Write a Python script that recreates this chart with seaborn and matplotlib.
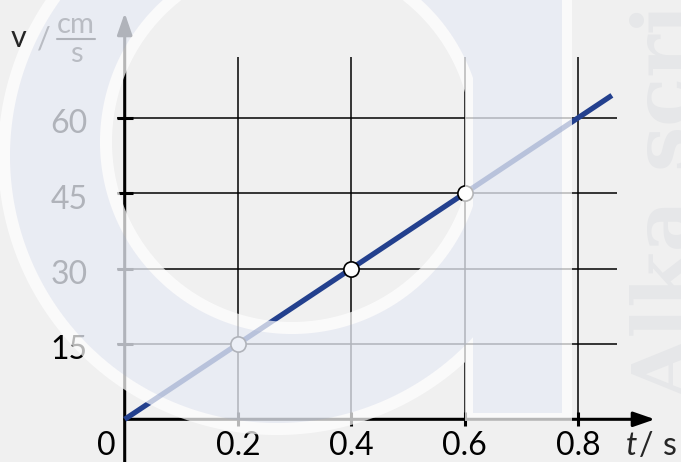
import numpy as np
import matplotlib
matplotlib.use("Agg")
import matplotlib.pyplot as plt
import matplotlib.transforms as mtransforms
import seaborn as sns

# --- data -------------------------------------------------------------
t_line = [0.0, 0.86]          # s
v_line = [0.0, 64.5]          # cm/s
t_points = [0.2, 0.4, 0.6]
v_points = [15, 30, 45]
x_ticks = [0.2, 0.4, 0.6, 0.8]
x_tick_labels = ["0.2", "0.4", "0.6", "0.8"]
y_ticks = [15, 30, 45, 60]
y_tick_labels = ["15", "30", "45", "60"]

W, H = 681, 462
BG = "#f0f0f0"
LINE_BLUE = "#23408e"

sns.set_theme(style="white", rc={"figure.facecolor": BG, "axes.facecolor": BG})
plt.rcParams["font.family"] = ["Lato", "DejaVu Sans"]

fig = plt.figure(figsize=(W / 100, H / 100), dpi=100)
ax = fig.add_axes([0, 0, 1, 1])

# pixel layout of the original: t=0 at x=124.7 px, v=0 at y=419.3 px
x0, sx = 124.7, 566.5
y0, sy = 419.3, 5.022
v_bottom = (y0 - H) / sy

# pixel transform (origin top-left) for the free labels
px = mtransforms.Affine2D().scale(1 / W, -1 / H).translate(0, 1) + fig.transFigure

# grid
ax.vlines(x_ticks, 0, 72.1, colors="black", lw=1.1, zorder=1)
ax.hlines(y_ticks, -0.0136, 0.869, colors="black", lw=1.1, zorder=1)
# tick marks
ax.vlines(x_ticks, -1.4, 1.4, colors="black", lw=2.2, zorder=2)
ax.hlines(y_ticks, -0.014, 0.014, colors="black", lw=2.2, zorder=2)

# axes with arrows
arrow = dict(arrowstyle="-|>,head_length=13,head_width=4.5", mutation_scale=1,
             lw=2.2, color="black", shrinkA=0, shrinkB=0)
ax.annotate("", xy=(0, 80.9), xytext=(0, v_bottom), arrowprops=arrow, zorder=3)
ax.annotate("", xy=(0.936, 0), xytext=(0, 0), arrowprops=arrow, zorder=3)

# data line and measured points
sns.lineplot(x=t_line, y=v_line, ax=ax, color=LINE_BLUE, linewidth=3.8,
             solid_capstyle="butt", zorder=4)
sns.scatterplot(x=t_points, y=v_points, ax=ax, s=120, color="white",
                edgecolor="black", linewidth=1.2, zorder=5, legend=False)

ax.set_xlim(-x0 / sx, (W - x0) / sx)
ax.set_ylim(v_bottom, y0 / sy)
ax.set_axis_off()

# tick labels
fs = 23
for t, lab in zip(x_ticks, x_tick_labels):
    ax.text(t, -7.2, lab, ha="center", va="baseline", fontsize=fs, color="black")
ax.text(-0.033, -7.2, "0", ha="center", va="baseline", fontsize=fs, color="black")
for v, lab in zip(y_ticks, y_tick_labels):
    ax.text(-0.065, v - 3.09, lab, ha="right", va="baseline", fontsize=fs, color="black")

# axis titles
ax.text(19, 47, "v", transform=px, ha="center", va="baseline", fontsize=22)
ax.text(44, 39, "/", transform=px, ha="center", va="center", fontsize=22)
ax.text(76, 33, "cm", transform=px, ha="center", va="baseline", fontsize=21)
ax.plot([57, 95], [38.5, 38.5], transform=px, color="black", lw=1.5, clip_on=False)
ax.text(76, 62, "s", transform=px, ha="center", va="baseline", fontsize=21)

ax.text(632, 455, "t", transform=px, ha="center", va="baseline", fontsize=fs, style="italic")
ax.text(646, 455, "/", transform=px, ha="center", va="baseline", fontsize=fs)
ax.text(670, 455, "s", transform=px, ha="center", va="baseline", fontsize=fs)

# faint watermark text, running off the right edge as in the original
ax.text(692, 400, "Alka scri", transform=px, rotation=90, rotation_mode="anchor",
        ha="left", va="baseline", fontsize=58, family="DejaVu Serif",
        weight="bold", color="#e6e7e9", zorder=0)

# watermark logo overlay (ring + stem), drawn as a translucent image on top
yy, xx = np.mgrid[0:H, 0:W] + 0.5


def disc(cx, cy, r):
    return np.clip(r - np.hypot(xx - cx, yy - cy) + 0.5, 0, 1)


def box(xa, xb, yb):
    return np.minimum.reduce([np.clip(xx - xa + 0.5, 0, 1),
                              np.clip(xb - xx + 0.5, 0, 1),
                              np.clip(yb - yy + 0.5, 0, 1)])


outer_c = (277, 156)
inner_c = (292, 142)
ring_band = np.minimum(disc(*outer_c, 279), 1 - disc(*inner_c, 180))
ring_fill = np.minimum(disc(*outer_c, 267), 1 - disc(*inner_c, 192))
fill = np.maximum(ring_fill, box(473, 562, 413))
band = np.clip(np.maximum(ring_band, box(465, 572, 421)) - fill, 0, 1)

a_fill, c_fill = 0.765, np.array([232, 235, 245]) / 255
a_band, c_band = 0.72, np.array([255, 255, 255]) / 255
alpha = fill * a_fill + band * a_band
rgb = (fill[..., None] * a_fill * c_fill + band[..., None] * a_band * c_band)
rgb = rgb / np.maximum(alpha, 1e-6)[..., None]
overlay = np.dstack([np.clip(rgb, 0, 1), alpha])
fig.figimage(overlay, xo=0, yo=0, origin="upper", zorder=10)

fig.savefig("out.png", dpi=100, facecolor=BG)
